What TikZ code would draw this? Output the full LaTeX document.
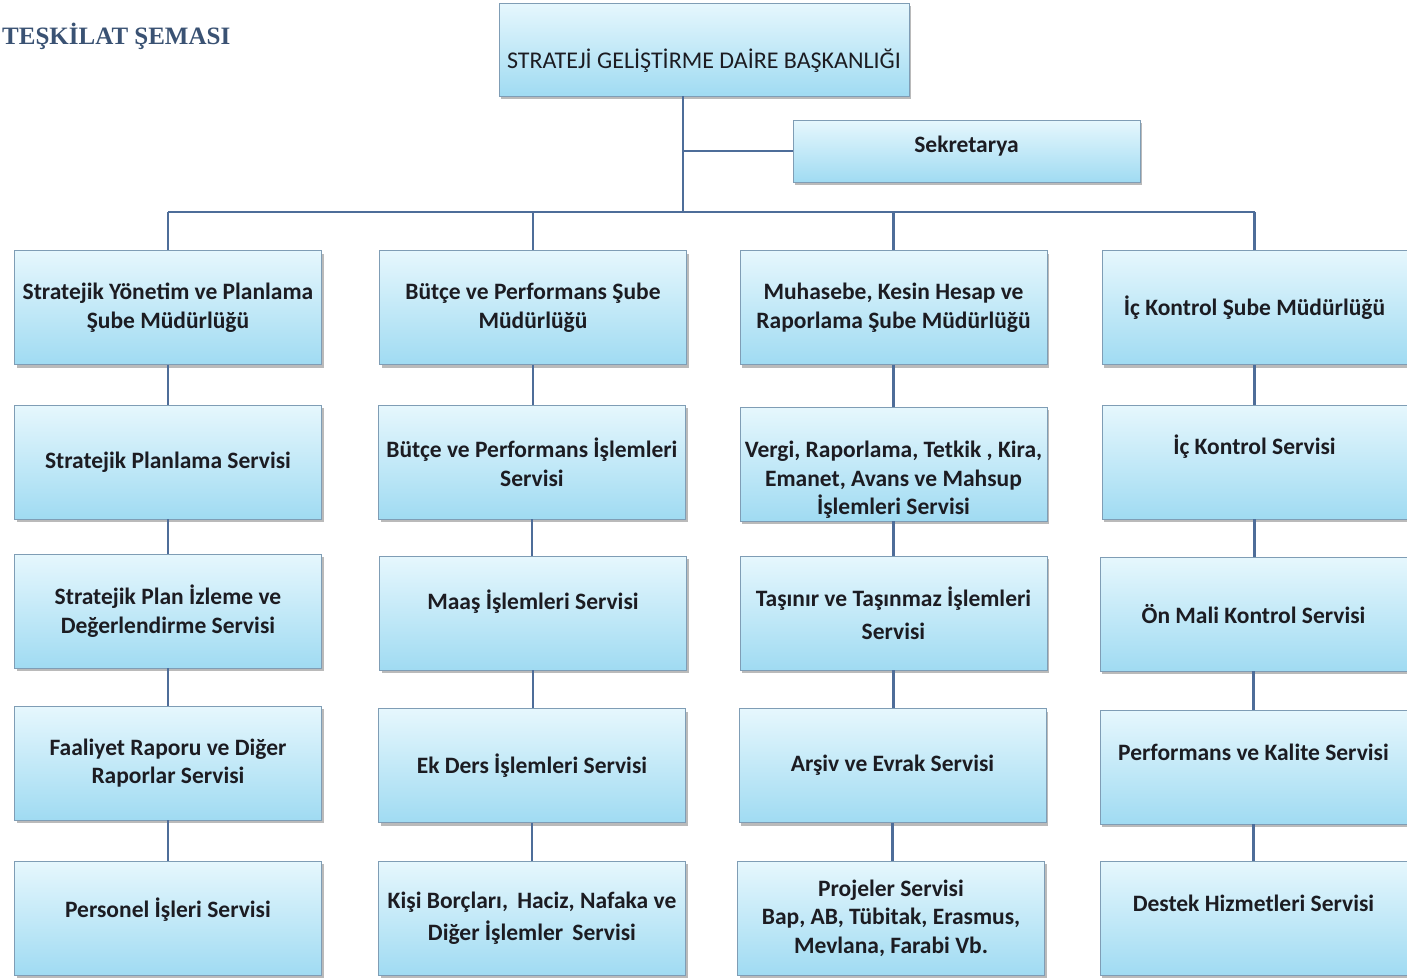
\documentclass[tikz,border=0pt]{standalone}
\usepackage{fontspec}
\setmainfont{Carlito}
\newfontfamily\titlefont{Liberation Serif}
\usetikzlibrary{shadows}
\definecolor{boxtop}{HTML}{E6F7FD}
\definecolor{boxbot}{HTML}{A0DBF2}
\definecolor{boxline}{HTML}{7F9DB5}
\definecolor{conn}{HTML}{4E6D99}
\definecolor{titlec}{HTML}{3A5273}
\definecolor{txt}{HTML}{1C1C22}
\tikzset{
  unit/.style={draw=boxline, line width=0.8pt, top color=boxtop, bottom color=boxbot,
    minimum width=307pt, minimum height=114pt, align=center, text=txt,
    font=\fontsize{23.5}{28.5}\selectfont\bfseries, inner sep=1pt,
    drop shadow={shadow xshift=2pt, shadow yshift=-3pt, opacity=0.45, fill=black!60}},
  link/.style={draw=conn, line width=2.8pt},
  raise/.style={text depth=#1},
}
\begin{document}
\begin{tikzpicture}[x=1pt,y=-1pt]
\useasboundingbox (0,0) rectangle (1407,978);
\node[anchor=base west, text=titlec, font=\titlefont\fontsize{25}{30}\selectfont\bfseries, inner sep=0pt] (title) at (2,44) {TEŞKİLAT ŞEMASI};

\node[unit, minimum width=410pt, minimum height=93pt, font=\fontsize{24}{28}\selectfont, text height=42pt, text depth=5pt] (top) at (704,49.5) {STRATEJİ GELİŞTİRME DAİRE BAŞKANLIĞI};
\node[unit, minimum width=347pt, minimum height=62pt, raise=14pt] (sek) at (966.5,151) {Sekretarya};

% column 1
\node[unit] (a1) at (168,307.5) {Stratejik Yönetim ve Planlama\\Şube Müdürlüğü};
\node[unit] (a2) at (168,462) {Stratejik Planlama Servisi};
\node[unit] (a3) at (168,611) {Stratejik Plan İzleme ve\\Değerlendirme Servisi};
\node[unit] (a4) at (168,763) {Faaliyet Raporu ve Diğer\\Raporlar Servisi};
\node[unit, raise=20pt] (a5) at (168,918) {Personel İşleri Servisi};
% column 2
\node[unit] (b1) at (533,307.5) {Bütçe ve Performans Şube\\Müdürlüğü};
\node[unit] (b2) at (532,462) {Bütçe ve Performans İşlemleri\\Servisi};
\node[unit, raise=26pt] (b3) at (533,613) {Maaş İşlemleri Servisi};
\node[unit] (b4) at (532,765.5) {Ek Ders İşlemleri Servisi};
\node[unit] (b5) at (532,918) {Kişi Borçları,\, Haciz, Nafaka ve\\[4pt]Diğer İşlemler\, Servisi};
% column 3
\node[unit] (c1) at (893.5,307.5) {Muhasebe, Kesin Hesap ve\\Raporlama Şube Müdürlüğü};
\node[unit] (c2) at (893.5,464) {\rule{0pt}{48pt}Vergi, Raporlama, Tetkik , Kira,\\Emanet, Avans ve Mahsup\\İşlemleri Servisi};
\node[unit] (c3) at (893.5,613) {Taşınır ve Taşınmaz İşlemleri\\[4pt]Servisi};
\node[unit] (c4) at (892.5,765.5) {Arşiv ve Evrak Servisi};
\node[unit] (c5) at (891,918) {Projeler Servisi\\Bap, AB, Tübitak, Erasmus,\\Mevlana, Farabi Vb.};
% column 4
\node[unit, minimum width=305pt] (d1) at (1254.5,307.5) {İç Kontrol Şube Müdürlüğü};
\node[unit, minimum width=305pt, raise=34pt] (d2) at (1254.5,462) {İç Kontrol Servisi};
\node[unit, minimum width=307pt] (d3) at (1253.5,614) {Ön Mali Kontrol Servisi};
\node[unit, minimum width=307pt, raise=30pt] (d4) at (1253.5,767) {Performans ve Kalite Servisi};
\node[unit, minimum width=307pt, raise=30pt] (d5) at (1253.5,918) {Destek Hizmetleri Servisi};

% connectors
\coordinate (trunk) at (683,212);
\draw[link] (trunk |- top.south) -- (trunk);
\draw[link] (trunk |- sek.west) -- (sek.west);
\draw[link] (a1.north |- trunk) -- (d1.north |- trunk);
\foreach \c in {a,b,c,d}{
  \draw[link] (\c1.north |- trunk) -- (\c1.north);
  \draw[link] (\c1.south) -- (\c1.south |- \c2.north);
  \draw[link] (\c2.south) -- (\c2.south |- \c3.north);
  \draw[link] (\c3.south) -- (\c3.south |- \c4.north);
  \draw[link] (\c4.south) -- (\c4.south |- \c5.north);
}
\end{tikzpicture}
\end{document}
